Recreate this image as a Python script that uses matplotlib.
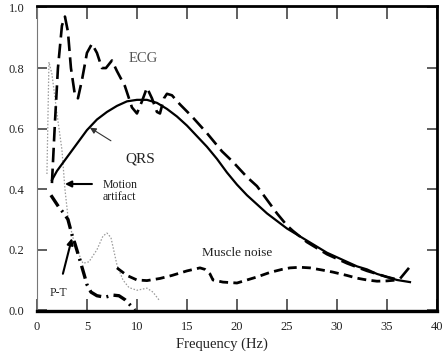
import matplotlib
matplotlib.use("Agg")
import matplotlib.pyplot as plt

# ECG spectrum (long dashed)
ecg_f = [1.5, 1.8, 2.1, 2.5, 2.8, 3.1, 3.4, 3.8, 4.1, 4.5, 5.0, 5.5, 6.0, 6.5, 6.9, 7.5, 8.0,
         8.8, 9.5, 10.0, 10.5, 11.0, 11.5, 12.0, 12.3, 12.7, 13.0, 13.5, 14.3, 15.5, 17.0,
         18.5, 19.6, 21.0, 22.0, 23.0, 24.0, 25.0, 25.6, 27.0, 29.0, 31.0, 33.0, 35.0, 36.2, 37.2]
ecg_p = [0.42, 0.62, 0.80, 0.94, 0.97, 0.92, 0.80, 0.71, 0.70, 0.76, 0.85, 0.88, 0.85, 0.80, 0.80,
         0.825, 0.79, 0.74, 0.67, 0.65, 0.69, 0.735, 0.70, 0.655, 0.65, 0.70, 0.715, 0.71, 0.68,
         0.64, 0.585, 0.525, 0.49, 0.44, 0.41, 0.365, 0.32, 0.28, 0.262, 0.225, 0.185, 0.155,
         0.13, 0.11, 0.10, 0.14]

# QRS complex (solid)
qrs_f = [1.5, 2.0, 3.0, 4.0, 5.0, 6.0, 7.0, 8.0, 9.0, 10.0, 11.0, 12.0, 13.0, 14.0, 15.0, 16.0,
         17.0, 18.0, 19.0, 20.0, 21.0, 22.0, 23.0, 24.0, 25.0, 26.0, 27.0, 28.0, 29.0, 30.0,
         31.0, 32.0, 33.0, 34.0, 35.0, 36.0, 37.3]
qrs_p = [0.43, 0.46, 0.505, 0.55, 0.595, 0.63, 0.655, 0.675, 0.69, 0.695, 0.695, 0.685, 0.665,
         0.64, 0.61, 0.575, 0.54, 0.50, 0.455, 0.415, 0.38, 0.35, 0.32, 0.295, 0.27, 0.25, 0.23,
         0.21, 0.19, 0.175, 0.16, 0.145, 0.135, 0.12, 0.11, 0.10, 0.093]

# P and T waves (dash-dot)
pt_f = [1.4, 1.8, 2.2, 2.7, 3.1, 3.5, 3.8, 4.3, 4.7, 5.0, 5.4, 6.0, 6.8, 7.6, 8.2, 8.8, 9.3, 9.8]
pt_p = [0.38, 0.36, 0.34, 0.32, 0.30, 0.25, 0.22, 0.165, 0.12, 0.085, 0.06, 0.048, 0.043, 0.05,
        0.048, 0.035, 0.018, 0.0]

# Motion artifact (dotted)
mot_f = [1.0, 1.2, 1.5, 2.0, 2.5, 2.8, 3.1, 3.6, 4.0, 4.6, 5.2, 6.0, 6.6, 7.0, 7.4, 8.0, 8.6,
         9.2, 10.0, 11.0, 11.6, 12.3]
mot_p = [0.45, 0.82, 0.78, 0.65, 0.53, 0.40, 0.31, 0.24, 0.20, 0.155, 0.16, 0.20, 0.245, 0.255,
         0.24, 0.15, 0.10, 0.075, 0.066, 0.073, 0.06, 0.03]

# Muscle noise (dashed)
mus_f = [8.0, 9.0, 10.0, 11.0, 12.3, 13.5, 15.0, 16.3, 16.8, 17.3, 17.6, 18.6, 20.0, 21.0, 22.0,
         23.3, 24.5, 25.3, 26.3, 27.3, 28.5, 29.6, 31.0, 32.0, 33.0, 34.0, 35.0, 36.0]
mus_p = [0.14, 0.115, 0.10, 0.098, 0.105, 0.115, 0.13, 0.14, 0.135, 0.12, 0.10, 0.093, 0.09,
         0.10, 0.11, 0.125, 0.135, 0.14, 0.142, 0.14, 0.133, 0.126, 0.115, 0.106, 0.10, 0.096,
         0.097, 0.10]

x_ticks = [0, 5, 10, 15, 20, 25, 30, 35, 40]
y_ticks = [0.0, 0.2, 0.4, 0.6, 0.8, 1.0]

fig = plt.figure(figsize=(4.45, 3.52), dpi=100)
ax = fig.add_axes([0.083, 0.116, 0.899, 0.867])
serif = "Liberation Serif"
txt = "#222222"

ax.plot(mot_f, mot_p, color="#9a9a9a", lw=0.9, dashes=(1.2, 1.4))
ax.plot(qrs_f, qrs_p, color="black", lw=1.6)
ax.plot(ecg_f, ecg_p, color="black", lw=1.9, dashes=(5.5, 2.4))
ax.plot(mus_f, mus_p, color="black", lw=2.0, dashes=(3.2, 1.9))
ax.plot(pt_f, pt_p, color="black", lw=2.4, dashes=(4.0, 1.6, 0.6, 1.6))

ax.set_xlim(0, 40)
ax.set_ylim(-0.003, 1.005)
ax.set_xticks(x_ticks)
ax.set_yticks(y_ticks)
ax.set_xticklabels([str(t) for t in x_ticks], family=serif, fontsize=9, color=txt)
ax.set_yticklabels(["%.1f" % t for t in y_ticks], family=serif, fontsize=9, color=txt)
ax.tick_params(axis="x", direction="in", length=9, width=1.2, top=True, pad=7, colors="#444444")
ax.tick_params(axis="y", direction="in", length=7, width=1.2, right=True, pad=9, colors="#444444")
for lab in ax.get_xticklabels() + ax.get_yticklabels():
    lab.set_color(txt)

for side in ["top", "right"]:
    ax.spines[side].set_linewidth(2.0)
ax.spines["bottom"].set_linewidth(2.4)
ax.spines["left"].set_linewidth(0.8)
ax.spines["left"].set_color("#777777")

fig.text(0.499, 0.042, "Frequency (Hz)", family=serif, fontsize=10.5, color=txt,
         ha="center", va="top")

ax.text(10.6, 0.83, "ECG", family=serif, fontsize=10.5, color="#555555", ha="center", va="center")
ax.annotate("QRS", xy=(5.3, 0.603), xytext=(10.3, 0.50), family=serif, fontsize=11,
            color=txt, ha="center", va="center",
            arrowprops=dict(arrowstyle="-|>", lw=0.8, color="#333333", mutation_scale=9,
                            shrinkA=12, shrinkB=0))
ax.annotate("", xy=(2.8, 0.417), xytext=(5.5, 0.417),
            arrowprops=dict(arrowstyle="-|>", lw=1.5, color="black", mutation_scale=9,
                            shrinkA=0, shrinkB=0))
ax.text(6.6, 0.393, "Motion\nartifact", family=serif, fontsize=8.5, color=txt,
        ha="left", va="center", linespacing=1.0)
ax.annotate("P-T", xy=(3.5, 0.238), xytext=(2.1, 0.056), family=serif, fontsize=8.5,
            color=txt, ha="center", va="center",
            arrowprops=dict(arrowstyle="-|>", lw=1.5, color="black", mutation_scale=9,
                            shrinkA=8, shrinkB=0))
ax.text(20.0, 0.19, "Muscle noise", family=serif, fontsize=9.5, color=txt,
        ha="center", va="center")

fig.savefig("out.png", dpi=100)
